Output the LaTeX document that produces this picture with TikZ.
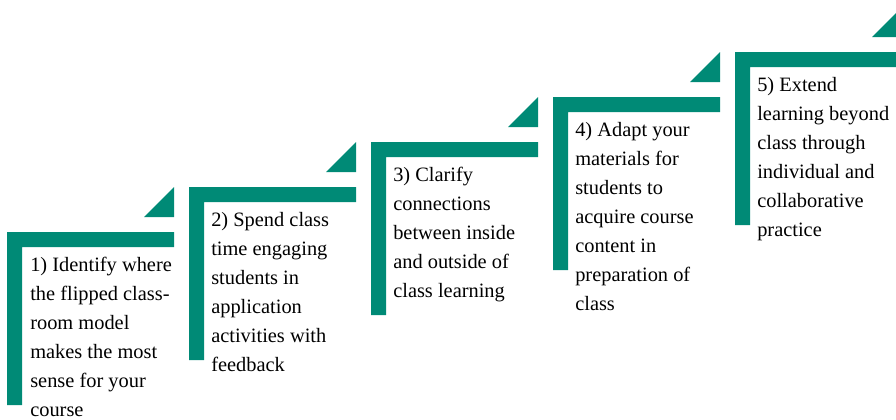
\documentclass[tikz,border=0pt]{standalone}
\usepackage{fontspec}
\setmainfont{Liberation Serif}
\usepackage{tikz}
\usetikzlibrary{positioning}
\definecolor{stepteal}{HTML}{008A76}

\begin{document}
\begin{tikzpicture}[x=0.75pt,y=-0.75pt,
  bar/.style={fill=stepteal},
  steptext/.style={anchor=north west,inner sep=0pt,align=left,
    font=\fontsize{15.3}{21.75}\selectfont}]
\clip (0,0) rectangle (896,419);
\useasboundingbox (0,0) rectangle (896,419);
% step 1
\fill[bar] (7,405)--(7,232)--(174,232)--(174,247)--(22,247)--(22,405)--cycle;
\fill[bar] (144,217)--(174,187)--(174,217)--cycle;
\node[steptext] (s1) at (30,257) {1) Identify where\\the flipped class-\\room model\\makes the most\\sense for your\\course};
% step 2
\fill[bar] (189,360)--(189,187)--(356,187)--(356,202)--(204,202)--(204,360)--cycle;
\fill[bar] (326,172)--(356,142)--(356,172)--cycle;
\node[steptext] (s2) at (211,212) {2) Spend class\\time engaging\\students in\\application\\activities with\\feedback};
% step 3
\fill[bar] (371,315)--(371,142)--(538,142)--(538,157)--(386,157)--(386,315)--cycle;
\fill[bar] (508,127)--(538,97)--(538,127)--cycle;
\node[steptext] (s3) at (393,167) {3) Clarify\\connections\\between inside\\and outside of\\class learning};
% step 4
\fill[bar] (553,270)--(553,97)--(720,97)--(720,112)--(568,112)--(568,270)--cycle;
\fill[bar] (690,82)--(720,52)--(720,82)--cycle;
\node[steptext] (s4) at (575,122) {4) Adapt your\\materials for\\students to\\acquire course\\content in\\preparation of\\class};
% step 5
\fill[bar] (735,225)--(735,52)--(902,52)--(902,67)--(750,67)--(750,225)--cycle;
\fill[bar] (872,37)--(902,7)--(902,37)--cycle;
\node[steptext] (s5) at (757,77) {5) Extend\\learning beyond\\class through\\individual and\\collaborative\\practice};
\end{tikzpicture}
\end{document}
